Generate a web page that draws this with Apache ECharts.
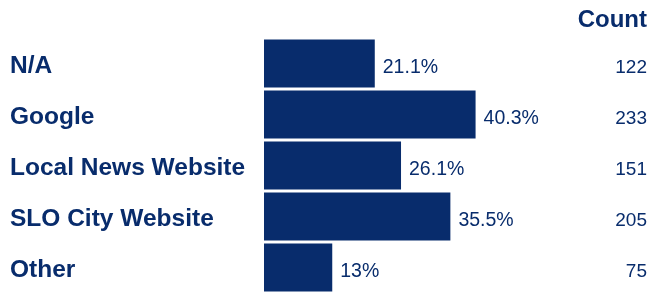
<!DOCTYPE html>
<html>
<head>
<meta charset="utf-8">
<script src="https://cdn.jsdelivr.net/npm/echarts@6/dist/echarts.min.js"></script>
<style>
html, body { margin: 0; padding: 0; background: #fff; }
#chart { width: 651px; height: 293px; }
</style>
</head>
<body>
<div id="chart"></div>
<script>
var categories = ['N/A', 'Google', 'Local News Website', 'SLO City Website', 'Other'];
var percents = [21.1, 40.3, 26.1, 35.5, 13];
var counts = [122, 233, 151, 205, 75];

var navy = '#082c6c';
var fontFamily = '"Liberation Sans", Arial, Helvetica, sans-serif';

var chart = echarts.init(document.getElementById('chart'));
chart.setOption({
	animation: false,
	grid: {
		left: 264,
		top: 38,
		width: 367.5,
		height: 261.5
	},
	xAxis: {
		type: 'value',
		min: 0,
		max: 70,
		show: false
	},
	yAxis: [{
		type: 'category',
		data: categories,
		inverse: true,
		axisLine: { show: false },
		axisTick: { show: false },
		axisLabel: {
			align: 'left',
			margin: 254,
			formatter: function (v) { return '{a|' + v + '}'; },
			rich: {
				a: {
					color: navy,
					fontWeight: 'bold',
					fontSize: 24.5,
					fontFamily: fontFamily,
					padding: [5, 0, 0, 0]
				}
			}
		}
	}, {
		type: 'category',
		data: counts,
		inverse: true,
		position: 'right',
		axisLine: { show: false },
		axisTick: { show: false },
		axisLabel: {
			align: 'right',
			margin: 15.5,
			formatter: function (v) { return '{a|' + v + '}'; },
			rich: {
				a: {
					color: navy,
					fontSize: 19,
					fontFamily: fontFamily,
					padding: [8, 0, 0, 0]
				}
			}
		}
	}],
	graphic: [{
		type: 'text',
		right: 4,
		top: 8,
		style: {
			text: 'Count',
			fill: navy,
			font: 'bold 24px ' + fontFamily
		}
	}],
	series: [{
		type: 'bar',
		data: percents,
		barWidth: 48,
		itemStyle: { color: navy },
		label: {
			show: true,
			position: 'right',
			distance: 8,
			offset: [0, 4],
			color: navy,
			fontSize: 19.5,
			fontFamily: fontFamily,
			formatter: function (p) { return p.value + '%'; }
		}
	}]
});
</script>
</body>
</html>
